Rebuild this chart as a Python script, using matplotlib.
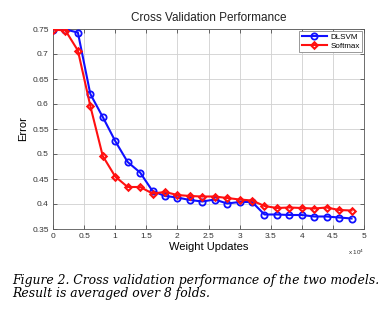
import matplotlib
matplotlib.use("Agg")
import matplotlib.pyplot as plt
import numpy as np

# Weight updates (evaluated every 2000 updates)
updates = [0, 2000, 4000, 6000, 8000, 10000, 12000, 14000, 16000, 18000,
           20000, 22000, 24000, 26000, 28000, 30000, 32000, 34000, 36000,
           38000, 40000, 42000, 44000, 46000, 48000]

# Cross validation error averaged over folds
dlsvm_err = [0.749, 0.749, 0.743, 0.620, 0.574, 0.526, 0.484, 0.463, 0.426,
             0.416, 0.413, 0.408, 0.405, 0.409, 0.401, 0.404, 0.404, 0.379,
             0.379, 0.378, 0.378, 0.375, 0.375, 0.373, 0.371]
softmax_err = [0.749, 0.747, 0.707, 0.596, 0.496, 0.455, 0.434, 0.434, 0.421,
               0.424, 0.418, 0.416, 0.415, 0.415, 0.412, 0.409, 0.407, 0.396,
               0.392, 0.393, 0.392, 0.391, 0.393, 0.388, 0.387]

xticks = [0, 5000, 10000, 15000, 20000, 25000, 30000, 35000, 40000, 45000, 50000]
yticks = [0.35, 0.4, 0.45, 0.5, 0.55, 0.6, 0.65, 0.7, 0.75]

plt.rcParams['font.family'] = ['Liberation Sans', 'DejaVu Sans']

fig = plt.figure(figsize=(3.9, 3.25), dpi=100)
ax = fig.add_axes([53/390, 96/325, 311/390, 200/325])

ax.plot(updates, dlsvm_err, '-o', color='#1010ff', lw=1.5, ms=4.5,
        mfc='none', mew=1.3, label='DLSVM', zorder=3)
ax.plot(updates, softmax_err, '-D', color='#ff1010', lw=1.5, ms=3.3,
        mfc='none', mew=1.5, label='Softmax', zorder=3)

ax.set_xlim(0, 50000)
ax.set_ylim(0.35, 0.75)
ax.set_xticks(xticks)
ax.set_yticks(yticks)
ax.set_xticklabels(['0', '0.5', '1', '1.5', '2', '2.5', '3', '3.5', '4', '4.5', '5'])
ax.set_yticklabels(['0.35', '0.4', '0.45', '0.5', '0.55', '0.6', '0.65', '0.7', '0.75'])
ax.tick_params(direction='in', top=True, right=True, labelsize=6, length=3,
               width=0.5, colors='#333333', pad=3)
ax.grid(True, color='#d0d0d0', lw=0.6)
for s in ax.spines.values():
    s.set_color('#555555')
    s.set_linewidth(0.6)

ax.set_title('Cross Validation Performance', fontsize=8.5, pad=6, color='#222222')
ax.set_xlabel('Weight Updates', fontsize=8, labelpad=1)
ax.set_ylabel('Error', fontsize=8, labelpad=3)
ax.text(1.0, -0.095, r'x 10$^4$', transform=ax.transAxes, fontsize=4.5,
        ha='right', va='top', color='#333333')

leg = ax.legend(loc='upper right', fontsize=5.8, handlelength=3.2,
                borderaxespad=0.2, fancybox=False, framealpha=1,
                edgecolor='#888888', borderpad=0.3, labelspacing=0.2,
                handletextpad=0.4)
leg.get_frame().set_linewidth(0.6)

fig.text(0.03, 0.138, 'Figure 2. Cross validation performance of the two models.',
         family='DejaVu Serif', style='italic', fontsize=8.9, va='center')
fig.text(0.03, 0.097, 'Result is averaged over 8 folds.',
         family='DejaVu Serif', style='italic', fontsize=8.9, va='center')

fig.savefig('out.png', dpi=100)
